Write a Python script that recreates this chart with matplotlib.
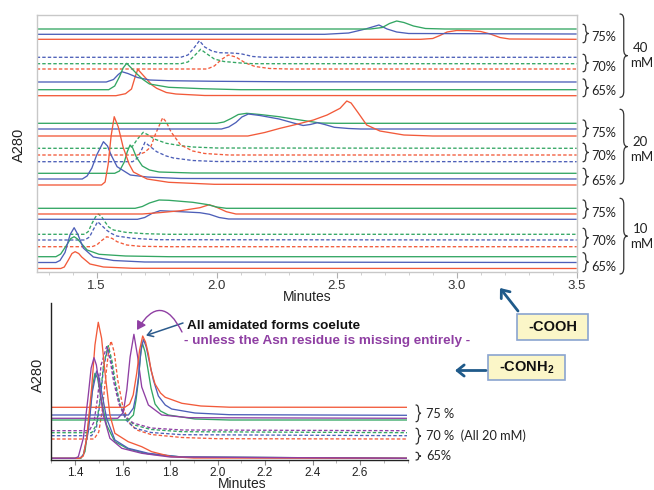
import matplotlib
matplotlib.use("Agg")
import matplotlib.pyplot as plt
from matplotlib.path import Path
from matplotlib.patches import PathPatch, FancyArrowPatch, Rectangle
from matplotlib.ticker import MultipleLocator

plt.rcParams['font.family'] = ['Liberation Sans', 'DejaVu Sans']
plt.rcParams['mathtext.fontset'] = 'custom'
plt.rcParams['mathtext.bf'] = 'Liberation Sans:bold'
plt.rcParams['mathtext.rm'] = 'Liberation Sans'

# ---------------- data: top panel (-COOH), (minutes, A280 offset) ----------------
c40_75_green = [(1.25,243),(2.64,243),(2.69,244.5),(2.72,248.5),(2.75,251),(2.78,249.5),(2.82,246),(2.87,243.5),(2.95,243),(3.5,243)]
c40_75_blue = [(1.25,237.7),(2.45,237.7),(2.55,239),(2.62,243),(2.676,247),(2.71,243),(2.75,240),(2.80,238.5),(3.5,238)]
c40_75_red = [(1.25,232.7),(2.85,232.7),(2.90,233.5),(2.93,236.5),(2.96,240),(3.0,241.5),(3.05,241.3),(3.10,240.5),(3.14,238),(3.18,234.5),(3.22,233),(3.5,232.7)]
c40_70_blue = [(1.25,214.7),(1.85,214.7),(1.88,217),(1.905,224),(1.928,231.3),(1.95,225),(1.98,221),(2.01,219.3),(2.06,219),(2.10,218.3),(2.15,215.5),(2.20,214.7),(3.5,214.7)]
c40_70_green = [(1.25,208.3),(1.85,208.3),(1.88,210),(1.91,217),(1.933,222.7),(1.96,218),(1.99,213),(2.03,210.5),(2.10,209),(2.15,208.3),(3.5,208.3)]
c40_70_red = [(1.25,203),(1.96,203),(1.99,206),(2.02,212.5),(2.048,217),(2.08,215),(2.12,209),(2.16,205.5),(2.22,203.5),(2.30,203),(3.5,203)]
c40_65_blue = [(1.25,190),(1.54,190),(1.57,192.5),(1.59,197.5),(1.605,200.3),(1.63,198.5),(1.67,194.5),(1.72,192),(1.80,191.3),(2.0,190.7),(2.3,190.2),(3.5,190)]
c40_65_green = [(1.25,182.3),(1.55,182.3),(1.575,186),(1.595,195.3),(1.61,204),(1.625,208.7),(1.64,205),(1.665,198.7),(1.69,193),(1.72,188),(1.80,184.7),(1.94,183.3),(2.1,182.3),(3.5,182.3)]
c40_65_red = [(1.25,176.3),(1.58,176.3),(1.62,178.3),(1.645,183),(1.66,195),(1.671,202.7),(1.685,199),(1.705,193.7),(1.73,187),(1.75,183.7),(1.79,179.5),(1.83,178),(1.95,176.5),(3.5,176.3)]

c20_75_green = [(1.25,148.7),(2.0,148.7),(2.03,150),(2.06,153.5),(2.09,157.5),(2.125,158.7),(2.18,157.5),(2.26,155.3),(2.32,153),(2.375,151),(2.43,149),(2.5,148.7),(3.5,148.7)]
c20_75_blue = [(1.25,143),(2.02,143),(2.05,145),(2.08,149.5),(2.105,155),(2.132,158),(2.18,156.5),(2.26,153),(2.32,149),(2.36,146.5),(2.39,147.5),(2.42,149.3),(2.45,147.5),(2.49,144.7),(2.55,143.5),(2.6,143),(3.5,143)]
c20_75_red = [(1.25,136),(2.13,136),(2.16,137.5),(2.2,139.5),(2.264,143.7),(2.33,147.5),(2.403,152),(2.46,157),(2.514,163.7),(2.542,171),(2.56,169),(2.59,159),(2.625,147),(2.68,141),(2.78,137),(2.9,136),(3.5,136)]
c20_70_green = [(1.25,123.7),(1.63,123.7),(1.65,126),(1.67,133),(1.694,139.7),(1.715,137),(1.74,133),(1.79,128.7),(1.85,126.3),(1.9,125),(2.0,124),(3.5,123.7)]
c20_70_red = [(1.25,117),(1.67,117),(1.70,119.7),(1.725,125),(1.745,138),(1.775,154.3),(1.79,150),(1.81,140),(1.85,127),(1.90,121),(1.95,118.5),(2.05,117),(3.5,117)]
c20_70_blue = [(1.25,110.3),(1.65,110.3),(1.67,114),(1.685,121),(1.701,129.7),(1.72,126),(1.75,120.3),(1.79,116),(1.82,114),(1.9,111.5),(2.0,110.5),(3.5,110.3)]
c20_65_green = [(1.25,98.7),(1.575,98.7),(1.595,101),(1.615,110),(1.627,120),(1.639,127),(1.65,124),(1.665,115),(1.69,106),(1.72,102),(1.76,100),(1.9,99),(3.5,98.7)]
c20_65_blue = [(1.25,93),(1.44,93),(1.46,96),(1.48,104),(1.50,117),(1.528,130.3),(1.545,126),(1.56,117),(1.585,105.3),(1.64,97),(1.71,95),(1.85,93.5),(3.5,93)]
c20_65_red = [(1.25,87),(1.52,87),(1.535,90),(1.548,108),(1.56,136),(1.573,155.3),(1.59,145),(1.61,125),(1.635,108),(1.653,100),(1.71,93),(1.80,89.7),(1.99,87.7),(3.5,87)]

c10_75_green = [(1.25,63.7),(1.66,63.7),(1.69,65.5),(1.72,69),(1.76,72),(1.80,71.7),(1.85,70.7),(1.90,69.7),(1.96,67.5),(2.0,65),(2.04,63.7),(3.5,63.7)]
c10_75_red = [(1.25,58),(1.69,58),(1.76,59.3),(1.85,61.3),(1.93,64.3),(1.969,67.3),(2.0,64.7),(2.04,60.3),(2.08,58),(3.5,58)]
c10_75_blue = [(1.25,52.7),(1.67,52.7),(1.70,54.5),(1.73,58.5),(1.764,61.3),(1.85,60.3),(1.93,59.3),(1.97,57.7),(2.01,54.5),(2.05,53),(3.5,52.7)]
c10_70_green = [(1.25,37.7),(1.45,37.7),(1.465,40.5),(1.48,48.5),(1.495,55),(1.507,58),(1.52,55.5),(1.535,50),(1.55,45),(1.57,42),(1.62,39.7),(1.70,38.3),(1.8,37.7),(3.5,37.7)]
c10_70_blue = [(1.25,32),(1.45,32),(1.47,35),(1.485,42),(1.504,50.3),(1.52,46.7),(1.542,41.7),(1.56,38.7),(1.583,36),(1.65,33.7),(1.75,32.3),(3.5,32)]
c10_70_red = [(1.25,25.3),(1.48,25.3),(1.50,27),(1.52,31.3),(1.542,35.3),(1.565,33.5),(1.585,30.3),(1.625,27),(1.68,25.7),(1.8,25.3),(3.5,25.3)]
c10_65_green = [(1.25,15.3),(1.33,15.3),(1.35,18),(1.375,27),(1.392,33.5),(1.406,35.3),(1.42,33),(1.44,27.5),(1.46,22),(1.51,17.7),(1.62,16),(1.8,15.3),(3.5,15.3)]
c10_65_blue = [(1.25,9.5),(1.33,9.5),(1.347,11.5),(1.368,19.5),(1.389,37.3),(1.406,44.3),(1.422,37.3),(1.444,24),(1.486,15),(1.57,11.5),(1.7,10),(3.5,9.5)]
c10_65_red = [(1.25,3.5),(1.35,3.5),(1.365,5),(1.382,12),(1.397,18.5),(1.41,20.3),(1.425,18.5),(1.4375,15),(1.472,8),(1.528,5),(1.65,3.7),(3.5,3.5)]

# ---------------- data: bottom panel (-CONH2, all 20 mM) ----------------
a75_red = [(1.3,52.7),(1.61,52.7),(1.63,56),(1.645,65),(1.66,87),(1.672,110),(1.685,124),(1.697,118),(1.709,106),(1.72,90),(1.737,76),(1.76,67),(1.78,62.7),(1.85,56.7),(1.93,54),(2.05,52.8),(2.8,52.7)]
a75_blue = [(1.3,45),(1.625,45),(1.646,52),(1.657,65),(1.667,82),(1.678,110),(1.688,120.7),(1.70,113),(1.716,95),(1.73,80),(1.751,64),(1.78,55),(1.807,51),(1.905,47),(2.05,45.3),(2.8,44.7)]
a75_purple = [(1.3,41.7),(1.58,41.7),(1.603,47.3),(1.618,70),(1.632,103),(1.648,125.7),(1.664,103),(1.681,73),(1.709,55),(1.765,45),(1.88,42.3),(2.8,41.7)]
a75_green = [(1.3,40),(1.625,40),(1.646,45),(1.657,60),(1.667,80),(1.675,103),(1.683,117.3),(1.695,108),(1.709,88),(1.72,72),(1.737,56),(1.76,49),(1.793,45),(1.905,41),(2.05,40),(2.8,40)]
a70_purple = [(1.3,29.3),(1.46,29.3),(1.48,38),(1.495,62),(1.51,95),(1.533,113.3),(1.548,100),(1.563,78),(1.585,56),(1.61,44),(1.645,37),(1.72,32),(1.85,30),(2.8,29.3)]
a70_green = [(1.3,27.3),(1.47,27.3),(1.49,35),(1.505,60),(1.52,95),(1.54,114.3),(1.555,100),(1.57,78),(1.59,55),(1.615,42),(1.65,35),(1.72,30.5),(1.85,28.3),(2.8,27.3)]
a70_blue = [(1.3,24.3),(1.47,24.3),(1.49,32),(1.505,57),(1.52,92),(1.538,112.3),(1.553,99),(1.568,77),(1.59,54),(1.615,40),(1.65,32),(1.72,27.5),(1.85,25.3),(2.8,24.3)]
a70_red = [(1.3,21),(1.48,21),(1.50,28),(1.515,50),(1.53,85),(1.542,110),(1.552,119),(1.565,108),(1.58,80),(1.60,55),(1.625,38),(1.66,30),(1.72,25.5),(1.85,22.5),(2.0,21.3),(2.8,21)]
a65_red = [(1.3,1.7),(1.42,1.7),(1.435,4),(1.449,21.7),(1.47,71.7),(1.484,115),(1.498,137.7),(1.512,121.7),(1.526,88.3),(1.547,45),(1.568,26.7),(1.624,18.3),(1.681,13.3),(1.723,8.3),(1.807,3.3),(1.9,2),(2.8,1.7)]
a65_purple = [(1.3,1.7),(1.40,1.7),(1.414,3.3),(1.435,21.7),(1.456,65),(1.468,92),(1.48,102.3),(1.49,95),(1.498,81.7),(1.519,45),(1.547,21.7),(1.597,11.7),(1.681,6.7),(1.8,3),(2.8,1.7)]
a65_blue = [(1.3,1.7),(1.42,1.7),(1.435,5),(1.456,28.3),(1.473,68.3),(1.491,89),(1.50,84),(1.512,68.3),(1.533,41.7),(1.568,20),(1.624,11.7),(1.709,6.7),(1.85,3),(2.8,1.7)]
a65_green = [(1.3,1.7),(1.425,1.7),(1.442,8.3),(1.463,48.3),(1.475,75),(1.484,86.7),(1.495,82),(1.512,58.3),(1.533,35),(1.568,18.3),(1.624,11),(1.709,6),(1.85,3),(2.8,1.7)]

top_xticks = [1.5, 2.0, 2.5, 3.0, 3.5]
top_xticklabels = ["1.5", "2.0", "2.5", "3.0", "3.5"]
bot_xticks = [1.4, 1.6, 1.8, 2.0, 2.2, 2.4, 2.6]
bot_xticklabels = ["1.4", "1.6", "1.8", "2.0", "2.2", "2.4", "2.6"]

# ---------------- styling ----------------
GREEN = '#33a663'
BLUE = '#4d5fb8'
RED = '#f25a3a'
PURPLE = '#8f3fa3'
NAVY = '#1f5a8a'
LW = 0.95
DASH = (2.6, 1.6)

W, H = 654, 490
fig = plt.figure(figsize=(W / 100, H / 100), dpi=100)


def fx(px):
    return px / W


def fy(py):
    return 1 - py / H


def draw(ax, pts, color, dashed=False, z=2):
    xs, ys = zip(*pts)
    ln, = ax.plot(xs, ys, color=color, lw=LW, zorder=z, solid_capstyle='butt')
    if dashed:
        ln.set_dashes(DASH)
    return ln


# ---------- top axes ----------
ax1 = fig.add_axes([fx(36.7), fy(272), 540 / W, 257 / H])
ax1.set_xlim(1.25, 3.5)
ax1.set_ylim(0, 257)
for s in ax1.spines.values():
    s.set_color('#c8c8c8')
    s.set_linewidth(1.0)
ax1.set_yticks([])
ax1.set_xticks(top_xticks)
ax1.set_xticklabels(top_xticklabels)
ax1.xaxis.set_minor_locator(MultipleLocator(0.1))
ax1.tick_params(axis='x', which='major', length=4, width=0.8, color='#b0b0b0',
                labelsize=9.5, labelcolor='#333333', pad=2)
ax1.tick_params(axis='x', which='minor', length=2.5, width=0.6, color='#c8c8c8')

top_solid = [
    (c40_75_red, RED), (c40_75_blue, BLUE), (c40_75_green, GREEN),
    (c40_65_red, RED), (c40_65_blue, BLUE), (c40_65_green, GREEN),
    (c20_75_green, GREEN), (c20_75_blue, BLUE), (c20_75_red, RED),
    (c20_65_green, GREEN), (c20_65_blue, BLUE), (c20_65_red, RED),
    (c10_75_blue, BLUE), (c10_75_red, RED), (c10_75_green, GREEN),
    (c10_65_red, RED), (c10_65_green, GREEN), (c10_65_blue, BLUE),
]
top_dashed = [
    (c40_70_red, RED), (c40_70_green, GREEN), (c40_70_blue, BLUE),
    (c20_70_blue, BLUE), (c20_70_green, GREEN), (c20_70_red, RED),
    (c10_70_red, RED), (c10_70_blue, BLUE), (c10_70_green, GREEN),
]
for pts, c in top_dashed:
    draw(ax1, pts, c, dashed=True)
for pts, c in top_solid:
    draw(ax1, pts, c)

# ---------- bottom axes ----------
ax2 = fig.add_axes([fx(51.25), fy(460), (407.5 - 51.25) / W, 157 / H])
ax2.set_xlim(1.3, 2.8)
ax2.set_ylim(0, 157)
ax2.spines['top'].set_visible(False)
ax2.spines['right'].set_visible(False)
for s in ('left', 'bottom'):
    ax2.spines[s].set_color('#222222')
    ax2.spines[s].set_linewidth(1.0)
ax2.set_yticks([])
ax2.set_xticks(bot_xticks)
ax2.set_xticklabels(bot_xticklabels)
ax2.xaxis.set_minor_locator(MultipleLocator(0.1))
ax2.tick_params(axis='x', which='major', length=3.5, width=0.8, color='#888888',
                labelsize=8.5, labelcolor='#222222', pad=1.5)
ax2.tick_params(axis='x', which='minor', length=2.5, width=0.6, color='#aaaaaa')

bot_dashed = [(a70_red, RED), (a70_blue, BLUE), (a70_green, GREEN), (a70_purple, PURPLE)]
bot_solid = [
    (a75_green, GREEN), (a75_purple, PURPLE), (a75_blue, BLUE), (a75_red, RED),
    (a65_green, GREEN), (a65_blue, BLUE), (a65_red, RED), (a65_purple, PURPLE),
]
for pts, c in bot_dashed:
    draw(ax2, pts, c, dashed=True)
for pts, c in bot_solid:
    draw(ax2, pts, c)

# ---------- axis labels ----------
fig.text(fx(19), fy(145), "A280", rotation=90, ha='center', va='center', fontsize=10.5, color='#222222')
fig.text(fx(307), fy(297), "Minutes", ha='center', va='center', fontsize=10, color='#222222')
fig.text(fx(38), fy(375), "A280", rotation=90, ha='center', va='center', fontsize=10.5, color='#222222')
fig.text(fx(242), fy(488), "Minutes", ha='center', va='baseline', fontsize=10, color='#222222')


# ---------- braces ----------
def brace(px, top, bot, w, lw=0.9, color='#333333', mid=None):
    if mid is None:
        mid = (top + bot) / 2
    r = min(w * 0.8, (mid - top) / 2.2, (bot - mid) / 2.2)
    xm = px + w / 2
    verts = [
        (px, top), (xm, top), (xm, top + r),
        (xm, mid - r), (xm, mid), (px + w, mid),
        (xm, mid), (xm, mid + r),
        (xm, bot - r), (xm, bot), (px, bot),
    ]
    codes = [Path.MOVETO, Path.CURVE3, Path.CURVE3,
             Path.LINETO, Path.CURVE3, Path.CURVE3,
             Path.CURVE3, Path.CURVE3,
             Path.LINETO, Path.CURVE3, Path.CURVE3]
    verts = [(fx(a), fy(b)) for a, b in verts]
    fig.add_artist(PathPatch(Path(verts, codes), fill=False, edgecolor=color,
                             lw=lw, transform=fig.transFigure, capstyle='round'))


LAB_FONT = ['Lato', 'DejaVu Sans']
small_braces_top = [
    (24.3, 42.7, 36.7, "75%"), (54.3, 71.7, 66.7, "70%"), (79, 96.7, 91, "65%"),
    (120, 136.7, 132.7, "75%"), (143.3, 161.7, 156, "70%"), (168.3, 185, 180.7, "65%"),
    (200, 218.3, 213.3, "75%"), (228.3, 247.3, 240.7, "70%"), (252.7, 271.7, 266.7, "65%"),
]
for t, b, ty, lab in small_braces_top:
    brace(583, t, b, 5.5)
    fig.text(fx(591.5), fy(ty), lab, ha='left', va='center', fontsize=9.2,
             family=LAB_FONT, color='#222222')

big_braces = [(14, 97.3, 48.3, 63.3, "40"), (109.3, 184, 141.7, 156.7, "20"), (198.3, 274, 229.3, 244, "10")]
for t, b, y1, y2, lab in big_braces:
    brace(620, t, b, 7.5)
    fig.text(fx(640.5), fy(y1), lab, ha='center', va='center', fontsize=9.5,
             family=LAB_FONT, color='#222222')
    fig.text(fx(641.5), fy(y2), "mM", ha='center', va='center', fontsize=9.5,
             family=LAB_FONT, color='#222222')

small_braces_bot = [(405, 421.7, 414.3, "75 %"), (428.3, 444, 436, "70 %  (All 20 mM)"), (452.3, 460, 455.7, "65%")]
for t, b, ty, lab in small_braces_bot:
    brace(416, t, b, 5)
    fig.text(fx(426), fy(ty), lab, ha='left', va='center', fontsize=9.2,
             family=LAB_FONT, color='#222222')

# ---------- annotations ----------
fig.text(fx(187), fy(329), "All amidated forms coelute", ha='left', va='baseline',
         fontsize=9.7, fontweight='bold', color='#111111')
fig.text(fx(184), fy(344), "- unless the Asn residue is missing entirely -", ha='left', va='baseline',
         fontsize=9.7, fontweight='bold', color=PURPLE)

fig.add_artist(FancyArrowPatch((fx(183), fy(323)), (fx(146), fy(335.5)),
                               transform=fig.transFigure, arrowstyle='->,head_length=4,head_width=2.5',
                               color='#2b5a8c', lw=1.1, shrinkA=0, shrinkB=0))
fig.add_artist(FancyArrowPatch((fx(182), fy(332)), (fx(137), fy(330)),
                               transform=fig.transFigure, connectionstyle='arc3,rad=0.9',
                               arrowstyle='-|>,head_length=5,head_width=3',
                               color=PURPLE, lw=1.0, shrinkA=0, shrinkB=0))

BOX_FACE = '#fbf6c8'
BOX_EDGE = '#8aa4d0'
fig.add_artist(Rectangle((fx(517), fy(340)), (588 - 517) / W, (340 - 314) / H,
                         transform=fig.transFigure, facecolor=BOX_FACE, edgecolor=BOX_EDGE, lw=1.2))
fig.text(fx(552.5), fy(327), "-COOH", ha='center', va='center', fontsize=10.5,
         fontweight='bold', color='#111111')
fig.add_artist(Rectangle((fx(488), fy(380)), (565 - 488) / W, (380 - 355) / H,
                         transform=fig.transFigure, facecolor=BOX_FACE, edgecolor=BOX_EDGE, lw=1.2))
fig.text(fx(526.5), fy(368), "-CONH$_\\mathbf{2}$", ha='center', va='center', fontsize=10.5,
         fontweight='bold', color='#111111')

fig.add_artist(FancyArrowPatch((fx(518), fy(311)), (fx(500), fy(288)),
                               transform=fig.transFigure, arrowstyle='->,head_length=5,head_width=4',
                               color=NAVY, lw=2.0, shrinkA=0, shrinkB=0))
fig.add_artist(FancyArrowPatch((fx(486), fy(370.5)), (fx(455), fy(370.5)),
                               transform=fig.transFigure, arrowstyle='->,head_length=5,head_width=4',
                               color=NAVY, lw=2.0, shrinkA=0, shrinkB=0))

fig.savefig("out.png", dpi=100)
